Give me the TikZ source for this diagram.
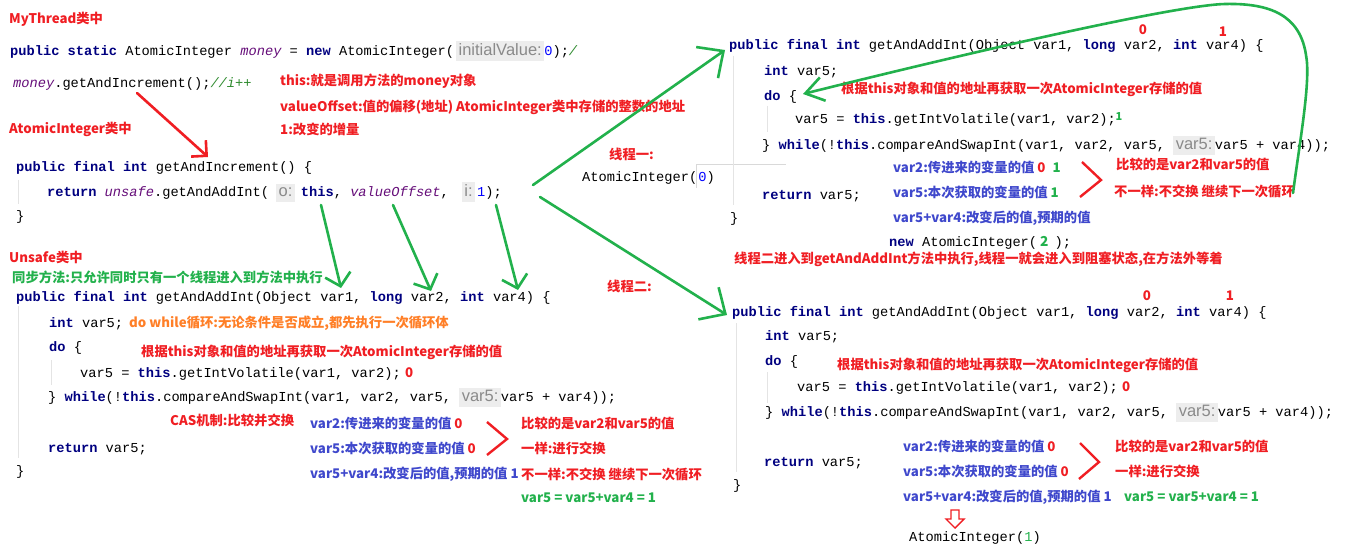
\documentclass[tikz,border=0pt]{standalone}
\usepackage{fontspec}
\setmonofont{Liberation Mono}
\newfontfamily\cjk{Noto Sans CJK SC}
\newfontfamily\hintf{Liberation Sans}
\usetikzlibrary{arrows.meta}
\definecolor{rc}{HTML}{F01E23}
\definecolor{bc}{HTML}{3F48CC}
\definecolor{gc}{HTML}{22B14C}
\definecolor{oc}{HTML}{FF7F27}
\definecolor{kwc}{HTML}{000080}
\definecolor{purp}{HTML}{660E7A}
\definecolor{numc}{HTML}{0000FF}
\definecolor{cmt}{HTML}{2E8B2E}
\definecolor{hintbg}{HTML}{EDEDED}
\definecolor{hintfg}{HTML}{8A8A8A}
\definecolor{guide}{HTML}{E4E4E4}
\newcommand\Kw[1]{{\bfseries\color{kwc}#1}}
\newcommand\Pv[1]{{\itshape\color{purp}#1}}
\newcommand\Nm[1]{{\color{numc}#1}}
\newcommand\Hint[1]{{\setlength\fboxsep{2.5pt}\colorbox{hintbg}{\rule[-3pt]{0pt}{13pt}\hintf\fontsize{16.5}{16.5}\selectfont\color{hintfg}#1}}}
\newcommand\Rd[1]{{\color{rc}#1}}
\newcommand\Gn[1]{{\color{gc}#1}}
\tikzset{
  code/.style={anchor=base west, yshift=-4.5pt, inner sep=0pt, font=\ttfamily\fontsize{13.7}{16}\selectfont, text=black},
  ann/.style={anchor=base west, yshift=-4.8pt, inner sep=0pt, font=\cjk\bfseries\fontsize{13.3}{16}\selectfont},
  redt/.style={ann, text=rc},
  bluet/.style={ann, text=bc},
  greent/.style={ann, text=gc},
  oranget/.style={ann, text=oc},
  digit/.style={anchor=base, yshift=-4.8pt, inner sep=0pt, font=\cjk\bfseries\fontsize{13.3}{16}\selectfont, text=rc},
  guideline/.style={draw=guide, line width=1pt},
  garrow/.style={draw=gc, line width=2.6pt, line cap=round},
  rarrow/.style={draw=rc, line width=2.6pt, line cap=round},
  bracket/.style={draw=rc, line width=2.4pt, line join=miter},
}
\begin{document}
\begin{tikzpicture}[x=1pt, y=-1pt]
\useasboundingbox (0,0) rectangle (1358,556);
\fill[white] (0,0) rectangle (1358,556);

% ---------- left column ----------
\node[redt] (myth) at (9,19) {MyThread类中};
\node[code] (l1) at (10,51) {\Kw{public} \Kw{static} AtomicInteger \Pv{money} = \Kw{new} AtomicInteger(\hspace{2pt}\Hint{initialValue:}\Nm{0});{\itshape\color{cmt}/}};
\node[code] (l2) at (13,83) {\Pv{money}.getAndIncrement();{\itshape\color{cmt}//i++}};
\node[redt] (a1) at (280,81) {this:就是调用方法的money对象};
\node[redt] (a2) at (280,107) {valueOffset:值的偏移(地址) AtomicInteger类中存储的整数的地址};
\node[redt] (atom) at (9,129) {AtomicInteger类中};
\node[redt] (a3) at (280,130) {1:改变的增量};
\node[code] (l3) at (16,167) {\Kw{public} \Kw{final} \Kw{int} getAndIncrement() \{};
\node[code] (l4) at (47,192) {\Kw{return} \Pv{unsafe}.getAndAddInt(\hspace{7pt}\Hint{o:}\hspace{6pt}\Kw{this}, \Pv{valueOffset},\hspace{13pt}\Hint{i:}\hspace{2pt}\Nm{1});};
\node[code] (l5) at (16,216) {\}};
\draw[guideline] (18,180) -- (18,204);

\node[redt] (unsafe) at (9,258) {Unsafe类中};
\node[greent] (sync) at (12,278) {同步方法:只允许同时只有一个线程进入到方法中执行};
\node[code] (u1) at (16,297) {\Kw{public} \Kw{final} \Kw{int} getAndAddInt(Object var1, \Kw{long} var2, \Kw{int} var4) \{};
\node[code] (u2) at (49,323) {\Kw{int} var5;};
\node[oranget] (dowhile) at (129,323) {do while循环:无论条件是否成立,都先执行一次循环体};
\node[code] (u3) at (49,347) {\Kw{do} \{};
\node[redt] (u3a) at (141,352) {根据this对象和值的地址再获取一次AtomicInteger存储的值};
\node[code] (u4) at (80,373) {var5 = \Kw{this}.getIntVolatile(var1, var2);};
\node[redt] (u4a) at (405,373) {0};
\node[code] (u5) at (48,397) {\} \Kw{while}(!\Kw{this}.compareAndSwapInt(var1, var2, var5, \Hint{var5:}var5 + var4));};
\node[redt] (cas) at (170,421) {CAS机制:比较并交换};
\node[bluet] (ub1) at (310,424) {var2:传进来的变量的值 \Rd{0}};
\node[code] (u6) at (48,448) {\Kw{return} var5;};
\node[bluet] (ub2) at (310,449) {var5:本次获取的变量的值 \Rd{0}};
\node[code] (u7) at (16,471) {\}};
\node[bluet] (ub3) at (310,474) {var5+var4:改变后的值,预期的值 1};
\node[redt] (ur1) at (521,424) {比较的是var2和var5的值};
\node[redt] (ur2) at (521,449) {一样:进行交换};
\node[redt] (ur3) at (521,475) {不一样:不交换 继续下一次循环};
\node[greent] (ur4) at (521,498) {var5 = var5+var4 = 1};
\draw[bracket] (487,422) -- (507,439) -- (487,455);
\draw[guideline] (18,306) -- (18,458);
\draw[guideline] (51,360) -- (51,385);

% ---------- thread labels ----------
\node[redt] (t1) at (609,155) {线程一:};
\draw[draw=gray!30, line width=0.8pt] (696,188) -- (696,164) -- (786,164);
\node[code] (t1v) at (582,177) {AtomicInteger(\hspace{1pt}\Nm{0})};
\node[redt] (t2) at (607,287) {线程二:};

% ---------- right block 1 ----------
\node[digit] (r0) at (1143,30) {0};
\node[digit] (r1) at (1223,32) {1};
\node[code] (p1) at (729,45) {\Kw{public} \Kw{final} \Kw{int} getAndAddInt(Object var1, \Kw{long} var2, \Kw{int} var4) \{};
\node[code] (p2) at (764,71) {\Kw{int} var5;};
\node[code] (p3) at (764,96) {\Kw{do} \{};
\node[redt] (p3a) at (841,89) {根据this对象和值的地址再获取一次AtomicInteger存储的值};
\node[code] (p4) at (795,119) {var5 = \Kw{this}.getIntVolatile(var1, var2);};
\node[anchor=base, yshift=-4pt, inner sep=0pt, font=\cjk\bfseries\fontsize{11}{12}\selectfont, text=gc] (p4a) at (1119,117) {1};
\node[code] (p5) at (762,145) {\} \Kw{while}(!\Kw{this}.compareAndSwapInt(var1, var2, var5, \Hint{var5:}var5 + var4));};
\node[bluet] (pb1) at (893,168) {var2:传进来的变量的值 \Rd{0}\hspace{7pt}\Gn{1}};
\node[code] (p6) at (762,195) {\Kw{return} var5;};
\node[bluet] (pb2) at (893,193) {var5:本次获取的变量的值 \Gn{1}};
\node[code] (p7) at (730,218) {\}};
\node[bluet] (pb3) at (893,218) {var5+var4:改变后的值,预期的值};
\node[code] (p8) at (889,242) {\Kw{new} AtomicInteger(\hspace{3pt}{\cjk\bfseries\color{gc}2}\hspace{6pt});};
\node[redt] (block) at (734,259) {线程二进入到getAndAddInt方法中执行,线程一就会进入到阻塞状态,在方法外等着};
\node[redt] (pr1) at (1116,165) {比较的是var2和var5的值};
\node[redt] (pr2) at (1114,192) {不一样:不交换 继续下一次循环};
\draw[bracket] (1082,162) -- (1101,180) -- (1080,197);
\draw[guideline] (733,56) -- (733,205);
\draw[guideline] (767,106) -- (767,132);

% ---------- right block 2 ----------
\node[digit] (s0) at (1147,296) {0};
\node[digit] (s1) at (1230,296) {1};
\node[code] (q1) at (732,312) {\Kw{public} \Kw{final} \Kw{int} getAndAddInt(Object var1, \Kw{long} var2, \Kw{int} var4) \{};
\node[code] (q2) at (765,336) {\Kw{int} var5;};
\node[code] (q3) at (765,361) {\Kw{do} \{};
\node[redt] (q3a) at (837,365) {根据this对象和值的地址再获取一次AtomicInteger存储的值};
\node[code] (q4) at (797,387) {var5 = \Kw{this}.getIntVolatile(var1, var2);};
\node[redt] (q4a) at (1122,387) {0};
\node[code] (q5) at (765,412) {\} \Kw{while}(!\Kw{this}.compareAndSwapInt(var1, var2, var5, \Hint{var5:}var5 + var4));};
\node[code] (q6) at (764,462) {\Kw{return} var5;};
\node[code] (q7) at (733,485) {\}};
\node[bluet] (qb1) at (903,447) {var2:传进来的变量的值 \Rd{0}};
\node[bluet] (qb2) at (903,472) {var5:本次获取的变量的值 \Rd{0}};
\node[bluet] (qb3) at (903,497) {var5+var4:改变后的值,预期的值 1};
\node[greent] (qg) at (1124,497) {var5 = var5+var4 = 1};
\node[redt] (qr1) at (1115,447) {比较的是var2和var5的值};
\node[redt] (qr2) at (1115,472) {一样:进行交换};
\draw[bracket] (1080,443) -- (1099,462) -- (1079,479);
\draw[guideline] (736,323) -- (736,472);
\draw[guideline] (767,372) -- (767,403);
\draw[draw=rc, line width=1.4pt, line join=miter] (951,510) -- (959,510) -- (959,519) -- (964,519) -- (955,528) -- (946,519) -- (951,519) -- cycle;
\node[code] (res) at (909,537) {AtomicInteger(\Gn{1})};

% ---------- connectors ----------
\coordinate (ra1) at (137,93);
\coordinate (ra2) at (208,157);
\draw[rarrow, -{Straight Barb[length=11pt,width=22pt]}] (ra1) -- (ra2);

\coordinate (g1s) at (321,205); \coordinate (g1e) at (341,288);
\coordinate (g2s) at (393,205); \coordinate (g2e) at (431,291);
\coordinate (g3s) at (496,205); \coordinate (g3e) at (518,290);
\draw[garrow, -{Straight Barb[length=12pt,width=26pt]}] (g1s) -- (g1e);
\draw[garrow, -{Straight Barb[length=12pt,width=26pt]}] (g2s) -- (g2e);
\draw[garrow, -{Straight Barb[length=12pt,width=26pt]}] (g3s) -- (g3e);

\coordinate (th1s) at (533,185); \coordinate (th1e) at (725,50);
\coordinate (th2s) at (540,197); \coordinate (th2e) at (727,315);
\draw[garrow, -{Straight Barb[length=20pt,width=38pt]}] (th1s) -- (th1e);
\draw[garrow, -{Straight Barb[length=20pt,width=38pt]}] (th2s) -- (th2e);

\coordinate (lp1) at (1293,193);
\coordinate (lp2) at (803,94);
\draw[garrow, -{Straight Barb[length=18pt,width=24pt]}] (lp1) .. controls (1300,140) and (1311,80) .. (1306,55) .. controls (1300,15) and (1270,3) .. (1225,4) .. controls (1180,5) and (1000,45) .. (lp2);
\end{tikzpicture}
\end{document}
